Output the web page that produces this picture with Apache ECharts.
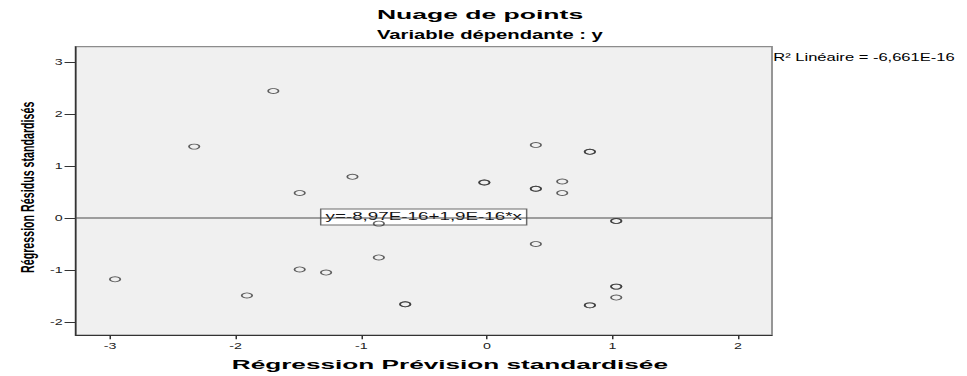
<!DOCTYPE html>
<html>
<head>
<meta charset="utf-8">
<script src="https://cdn.jsdelivr.net/npm/echarts@6/dist/echarts.min.js"></script>
<style>
  html, body { margin: 0; padding: 0; background: #ffffff; overflow: hidden; }
  /* the chart is laid out narrow and widened horizontally, giving the wide glyphs and oval markers */
  #chart { width: 644.667px; height: 376px; transform: scaleX(1.5); transform-origin: 0 0; }
</style>
</head>
<body>
<div id="chart"></div>
<script>
// Standardised predicted values (x) and standardised residuals (y), one pair per case
const predicted = [
  -1.70, -2.33, -1.07, -1.49, -0.86, -0.86, -1.49, -1.28, -2.96, -1.91, -0.65, -0.65,
   0.39,  0.82,  0.82, -0.02, -0.02,  0.60,  0.39,  0.39,  0.60,  1.03,  1.03,  0.39,
   1.03,  1.03,  1.03,  0.82,  0.82
];
const residuals = [
   2.44,  1.37,  0.79,  0.48, -0.11, -0.76, -0.99, -1.05, -1.18, -1.49, -1.66, -1.66,
   1.40,  1.27,  1.27,  0.68,  0.68,  0.70,  0.56,  0.56,  0.48, -0.06, -0.06, -0.50,
  -1.32, -1.32, -1.53, -1.68, -1.68
];

// Axis ticks and extents
const xTicks = [-3, -2, -1, 0, 1, 2];
const yTicks = [-2, -1, 0, 1, 2, 3];
const xExtent = [-3.275, 2.27];
const yExtent = [-2.25, 3.29];

// Linear fit reported by the regression
const fitIntercept = -8.97e-16;
const fitSlope = 1.9e-16;
const fitLabel = 'y=-8,97E-16+1,9E-16*x';
const r2Label = 'R\u00B2 Linéaire = -6,661E-16';

const titleLines = ['Nuage de points', 'Variable dépendante : y'];
const xName = 'Régression Prévision standardisée';
const yName = 'Régression Résidus standardisés';

const FONT = '"Liberation Sans", Arial, sans-serif';
const points = predicted.map((x, i) => [x, residuals[i]]);
const fitLine = xExtent.map(x => [x, fitIntercept + fitSlope * x]);

const chart = echarts.init(document.getElementById('chart'), null, { renderer: 'svg' });

chart.setOption({
  animation: false,
  backgroundColor: '#ffffff',
  grid: {
    left: 50.33, top: 46.7, right: 130.33, bottom: 41,
    show: true, backgroundColor: '#f0f0f0', borderColor: '#8c8c8c', borderWidth: 1.2
  },
  xAxis: {
    type: 'value', min: xExtent[0], max: xExtent[1],
    splitLine: { show: false },
    axisLine: { show: true, onZero: false, lineStyle: { color: '#333333', width: 1 } },
    axisTick: { show: true, length: 4.3, customValues: xTicks, lineStyle: { color: '#333333' } },
    axisLabel: { customValues: xTicks, margin: 6, fontSize: 9.5, color: '#222222', fontFamily: FONT }
  },
  yAxis: {
    type: 'value', min: yExtent[0], max: yExtent[1],
    splitLine: { show: false },
    axisLine: { show: true, onZero: false, lineStyle: { color: '#333333', width: 1 } },
    axisTick: { show: true, length: 7.3, customValues: yTicks, lineStyle: { color: '#333333' } },
    axisLabel: { customValues: yTicks, margin: 8.5, fontSize: 9.5, color: '#222222', fontFamily: FONT }
  },
  series: [
    {
      type: 'line', data: fitLine, symbol: 'none', silent: true,
      lineStyle: { color: '#4a4a4a', width: 1 }, z: 1
    },
    {
      type: 'scatter', data: points, symbol: 'circle', symbolSize: [7, 5], silent: true,
      itemStyle: { color: 'rgba(0,0,0,0)', borderColor: '#383838', borderWidth: 1 }, z: 2
    }
  ],
  graphic: [
    {
      type: 'text', x: 251.3, y: 14.4, scaleX: 1.31, z: 10,
      style: { text: titleLines[0], font: 'bold 13.5px ' + FONT, fill: '#000000', align: 'left', verticalAlign: 'middle' }
    },
    {
      type: 'text', x: 251.3, y: 34.4, scaleX: 1.0, z: 10,
      style: { text: titleLines[1], font: 'bold 13.5px ' + FONT, fill: '#000000', align: 'left', verticalAlign: 'middle' }
    },
    {
      type: 'text', x: 515.5, y: 57.2, scaleX: 1.07, z: 10,
      style: { text: r2Label, font: '10.3px ' + FONT, fill: '#000000', align: 'left', verticalAlign: 'middle' }
    },
    {
      type: 'text', x: 154.5, y: 364, scaleX: 1.385, z: 10,
      style: { text: xName, font: 'bold 12.6px ' + FONT, fill: '#000000', align: 'left', verticalAlign: 'middle' }
    },
    {
      type: 'text', x: 18.6, y: 187.3, rotation: Math.PI / 2, scaleX: 0.89, z: 10,
      style: { text: yName, font: 'bold 12px ' + FONT, fill: '#000000', align: 'center', verticalAlign: 'middle' }
    },
    {
      type: 'group', z: 20,
      children: [
        {
          type: 'rect', shape: { x: 213.8, y: 209, width: 137.3, height: 16 },
          style: { fill: '#ffffff', stroke: '#6a6a6a', lineWidth: 1 }
        },
        {
          type: 'text', x: 282.5, y: 215.6, scaleX: 1.12,
          style: { text: fitLabel, font: '11.2px ' + FONT, fill: '#111111', align: 'center', verticalAlign: 'middle' }
        }
      ]
    }
  ]
});
</script>
</body>
</html>
